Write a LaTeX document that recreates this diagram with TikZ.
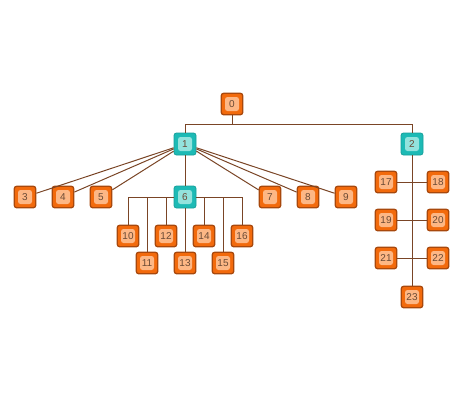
\documentclass[tikz,border=0pt]{standalone}
\usepackage{fontspec}
\setmainfont{Liberation Sans}
\begin{document}
\definecolor{ofill}{HTML}{F26A0C}
\definecolor{oborder}{HTML}{A8480C}
\definecolor{oinner}{HTML}{FDB785}
\definecolor{tfill}{HTML}{1DBAB5}
\definecolor{tborder}{HTML}{17A09B}
\definecolor{tinner}{HTML}{93E3DD}
\definecolor{txt}{HTML}{6A4A35}
\definecolor{edge}{HTML}{7A4526}
\begin{tikzpicture}[x=1pt,y=-1pt,
  onode/.style={draw=oborder,line width=1.3pt,fill=ofill,rounded corners=2.5pt,minimum size=21.5pt,inner sep=0pt,
     path picture={\fill[oinner] ([xshift=-7pt,yshift=-7pt]path picture bounding box.center) rectangle ([xshift=7pt,yshift=7pt]path picture bounding box.center);},
     font=\fontsize{10}{11}\selectfont,text=txt},
  tnode/.style={draw=tborder,line width=0.8pt,fill=tfill,rounded corners=2.5pt,minimum size=22pt,inner sep=0pt,
     path picture={\fill[tinner] ([xshift=-7pt,yshift=-7pt]path picture bounding box.center) rectangle ([xshift=7pt,yshift=7pt]path picture bounding box.center);},
     font=\fontsize{10}{11}\selectfont,text=txt},
  conn/.style={draw=edge,line width=1pt}]
\useasboundingbox (0,0) rectangle (460,400);
% nodes
\node[onode] (n0) at (232,104) {0};
\node[tnode] (n1) at (185,144) {1};
\node[tnode] (n2) at (412,144) {2};
\node[onode] (n3) at (25,197) {3};
\node[onode] (n4) at (63,197) {4};
\node[onode] (n5) at (101,197) {5};
\node[tnode] (n6) at (185,197) {6};
\node[onode] (n7) at (270,197) {7};
\node[onode] (n8) at (308,197) {8};
\node[onode] (n9) at (346,197) {9};
\node[onode] (n10) at (128,236) {10};
\node[onode] (n11) at (147,263) {11};
\node[onode] (n12) at (166,236) {12};
\node[onode] (n13) at (185,263) {13};
\node[onode] (n14) at (204,236) {14};
\node[onode] (n15) at (223,263) {15};
\node[onode] (n16) at (242,236) {16};
\node[onode] (n17) at (386,182) {17};
\node[onode] (n18) at (438,182) {18};
\node[onode] (n19) at (386,220) {19};
\node[onode] (n20) at (438,220) {20};
\node[onode] (n21) at (386,258) {21};
\node[onode] (n22) at (438,258) {22};
\node[onode] (n23) at (412,297) {23};
\coordinate (b0) at (232,124);
% connectors
\path[conn] (n0.south) -- (b0) -| (n1.north);
\path[conn] (b0) -| (n2.north);
\foreach \c in {3,4,5,7,8,9} \path[conn] (n1) -- (n\c);
\path[conn] (n1) -- (n6);
\foreach \c in {10,11,12,14,15,16} \path[conn] (n6) -| (n\c.north);
\path[conn] (n6) -- (n13);
\path[conn] (n2) -- (n23);
\path[conn] (n17) -- (n18);
\path[conn] (n19) -- (n20);
\path[conn] (n21) -- (n22);
\end{tikzpicture}
\end{document}
